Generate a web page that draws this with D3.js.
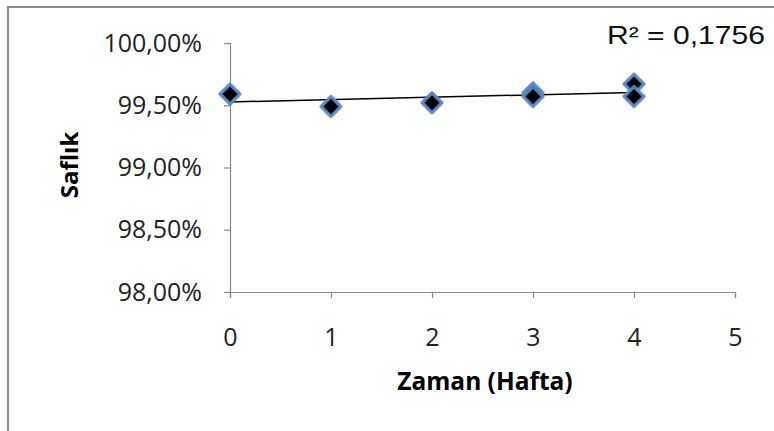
<!DOCTYPE html>
<html>
<head>
<meta charset="utf-8">
<script src="https://cdn.jsdelivr.net/npm/d3@7"></script>
<style>
  body { margin: 0; background: #fff; }
  svg { display: block; }
</style>
</head>
<body>
<div class="chart"></div>
<script>
// data
const weeks = [0, 1, 2, 3, 3, 4, 4];
const purity = [0.9959, 0.9949, 0.9952, 0.9960, 0.9957, 0.9967, 0.9957];
const xTicks = [0, 1, 2, 3, 4, 5];
const yTicks = [0.98, 0.985, 0.99, 0.995, 1.0];
const r2Label = "R² = 0,1756";

const W = 774, H = 431;
const svg = d3.select(".chart").append("svg")
  .attr("width", W).attr("height", H);

// outer chart frame (runs off the right and bottom edge)
svg.append("rect")
  .attr("x", 8).attr("y", 7)
  .attr("width", 900).attr("height", 600)
  .attr("fill", "#fff")
  .attr("stroke", "#8c8c8c")
  .attr("stroke-width", 2);

const x = d3.scaleLinear().domain([0, 5]).range([230, 735]);
const y = d3.scaleLinear().domain([0.98, 1.0]).range([292, 43]);

const fmt = (d) => (d * 100).toFixed(2).replace(".", ",") + "%";
const tickFont = "'Open Sans', Lato, sans-serif";

const yAxis = svg.append("g")
  .attr("transform", `translate(${x(0)},0)`)
  .call(d3.axisLeft(y).tickValues(yTicks).tickFormat(fmt).tickSize(6).tickPadding(22));
const xAxis = svg.append("g")
  .attr("transform", `translate(0,${y(0.98)})`)
  .call(d3.axisBottom(x).tickValues(xTicks).tickFormat(d3.format("d")).tickSize(6).tickPadding(30));

[yAxis, xAxis].forEach((g) => {
  g.select(".domain").attr("stroke", "#888").attr("stroke-width", 1.2);
  g.selectAll(".tick line").attr("stroke", "#888").attr("stroke-width", 1.2);
  g.selectAll(".tick text")
    .attr("fill", "#222")
    .style("font-family", tickFont)
    .style("font-size", "25px");
});

// linear trendline by least squares
const mx = d3.mean(weeks), my = d3.mean(purity);
const sxy = d3.sum(weeks, (w, i) => (w - mx) * (purity[i] - my));
const sxx = d3.sum(weeks, (w) => (w - mx) * (w - mx));
const slope = sxy / sxx, icpt = my - slope * mx;
const x0 = d3.min(weeks), x1 = d3.max(weeks);

svg.append("line")
  .attr("x1", x(x0)).attr("y1", y(icpt + slope * x0))
  .attr("x2", x(x1)).attr("y2", y(icpt + slope * x1))
  .attr("stroke", "#000").attr("stroke-width", 1.5);

// diamond markers
const diamond = d3.symbol().type(d3.symbolDiamond2).size(250);
svg.append("g").selectAll("path")
  .data(weeks)
  .join("path")
  .attr("transform", (d, i) => `translate(${x(d)},${y(purity[i])})`)
  .attr("d", diamond)
  .attr("fill", "#000")
  .attr("stroke", "#5a8ccc")
  .attr("stroke-width", 3.5)
  .attr("stroke-linejoin", "round")
  .attr("stroke-opacity", 0.9);

// axis titles
svg.append("text")
  .attr("transform", "translate(78,165) rotate(-90)")
  .attr("text-anchor", "middle")
  .style("font-family", tickFont)
  .style("font-weight", "bold")
  .style("font-size", "24px")
  .text("Saflık");

svg.append("text")
  .attr("x", 485).attr("y", 390)
  .attr("text-anchor", "middle")
  .style("font-family", tickFont)
  .style("font-weight", "bold")
  .style("font-size", "24.5px")
  .text("Zaman (Hafta)");

svg.append("text")
  .attr("x", 607).attr("y", 44)
  .attr("textLength", 158)
  .attr("lengthAdjust", "spacingAndGlyphs")
  .style("font-family", "'Liberation Sans', Arial, sans-serif")
  .style("font-size", "25px")
  .attr("fill", "#111")
  .text(r2Label);
</script>
</body>
</html>
